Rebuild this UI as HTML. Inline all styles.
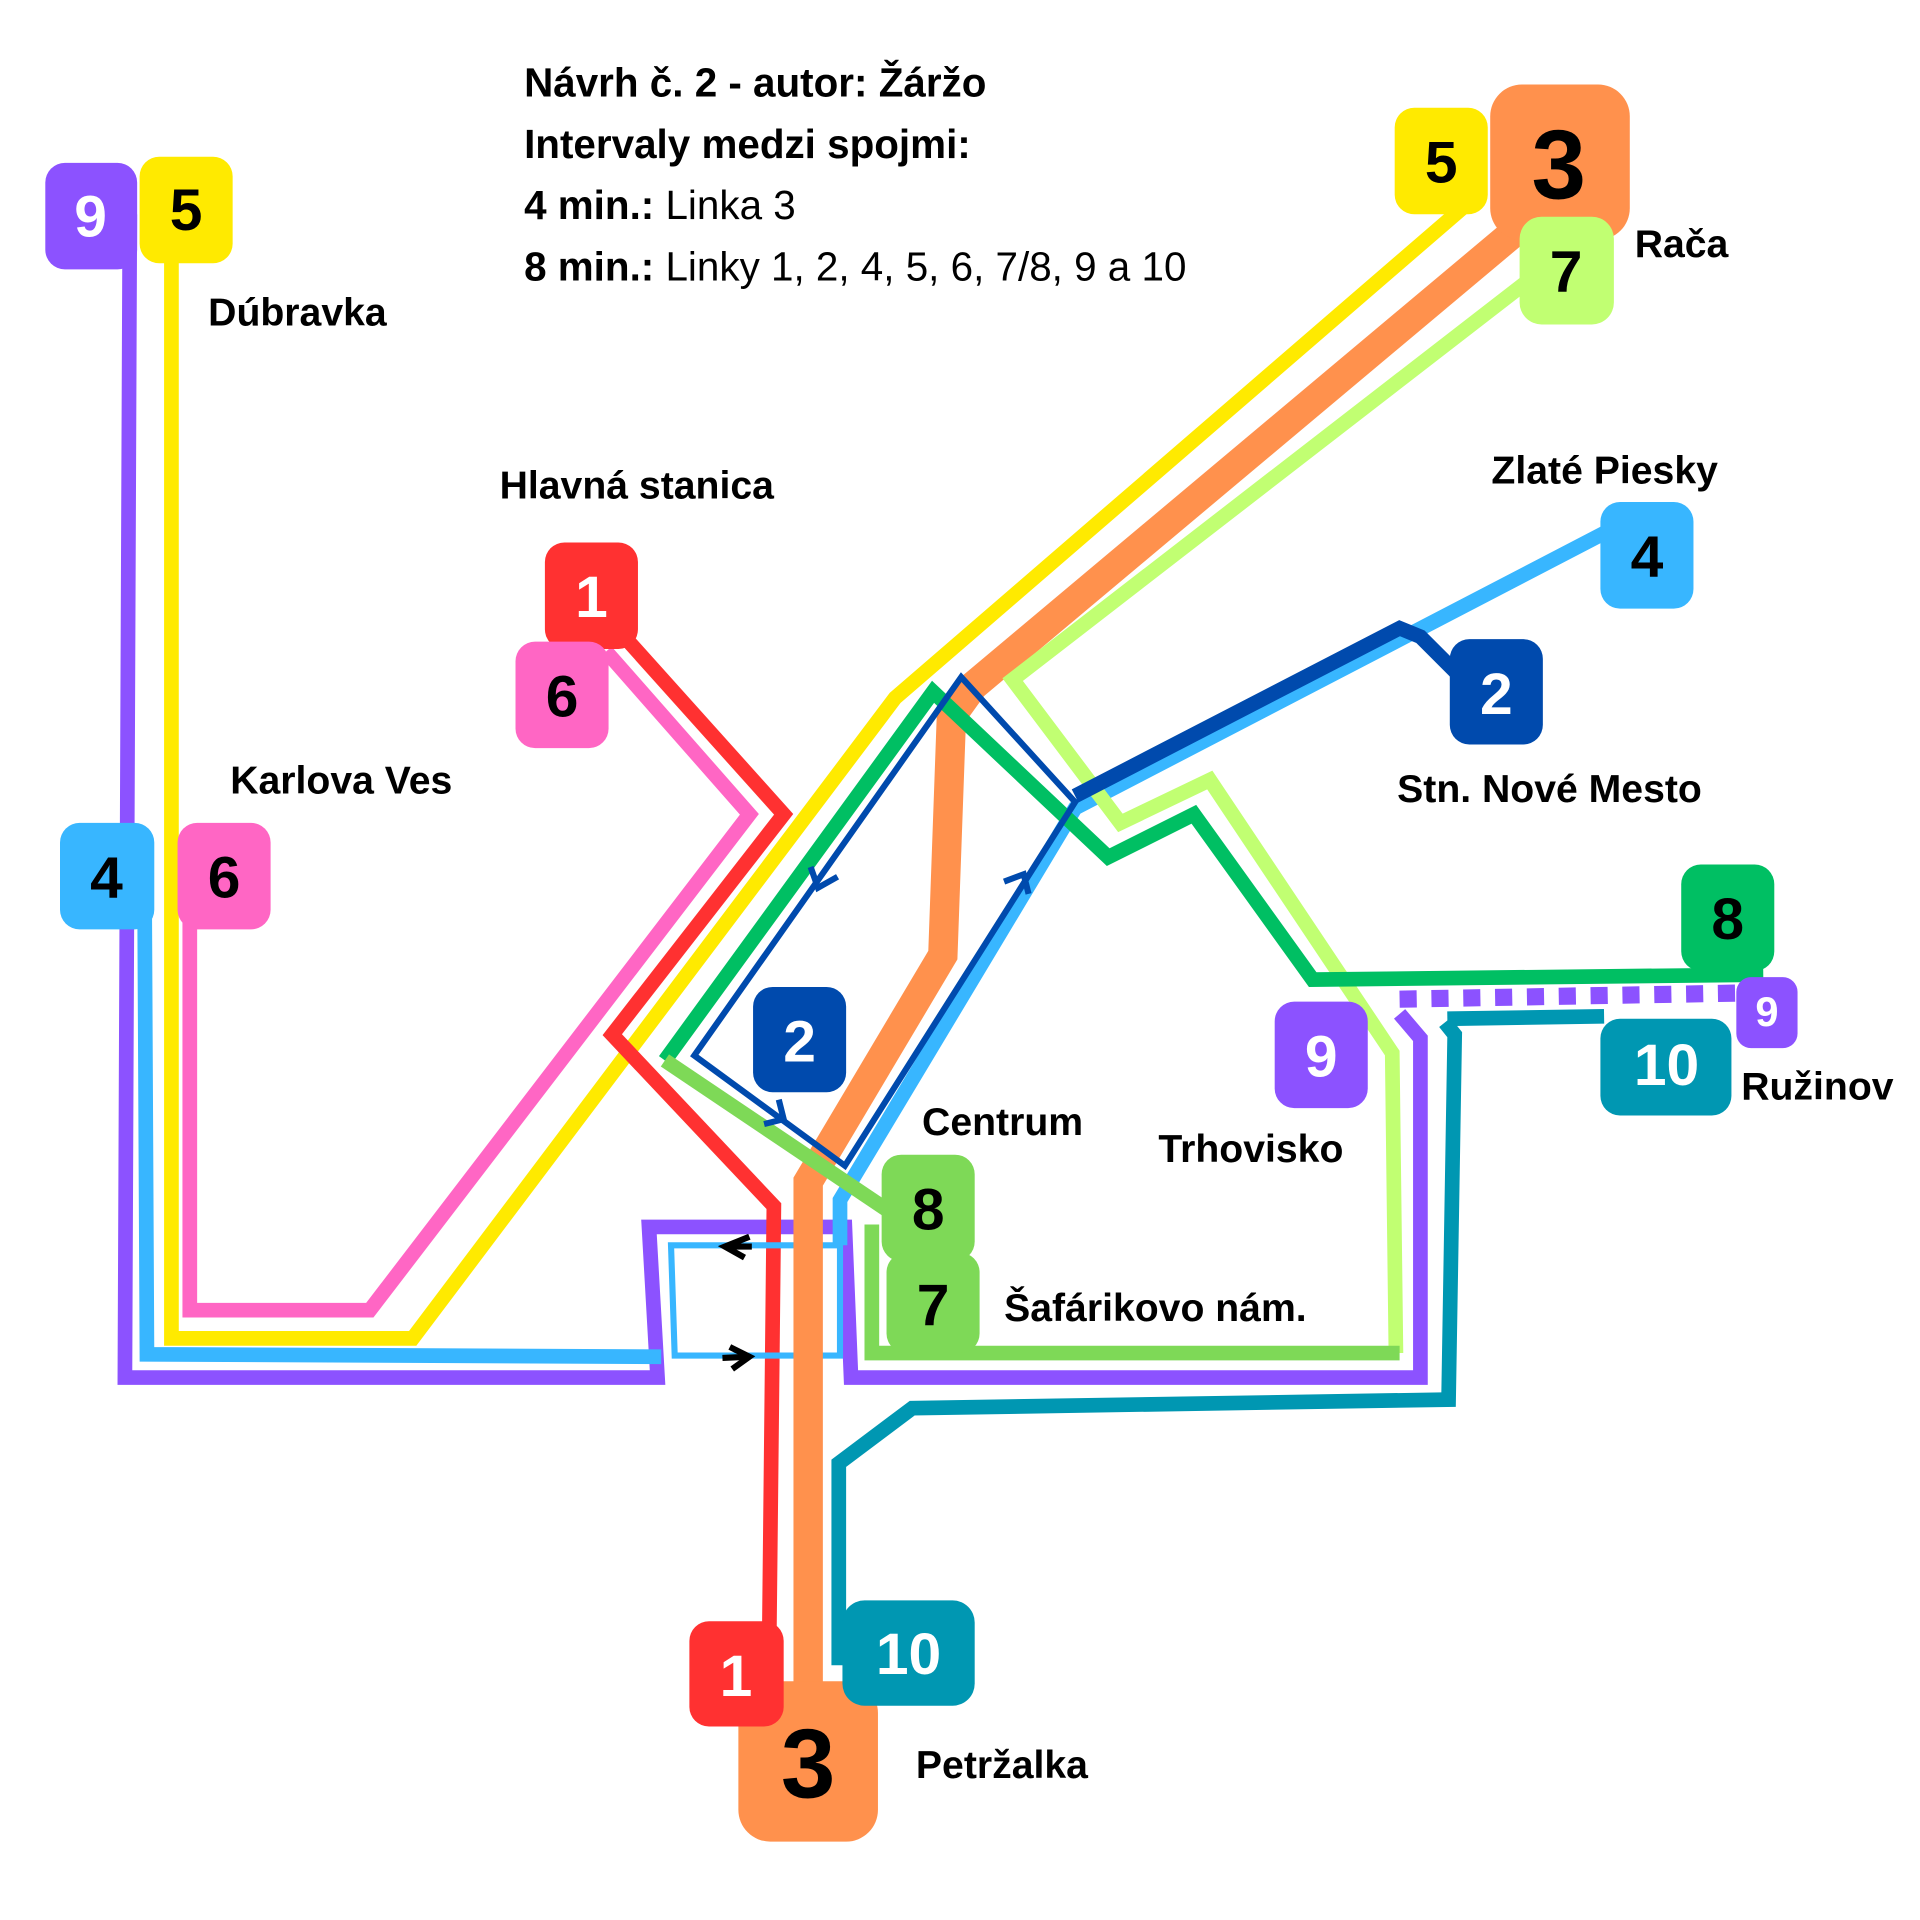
<!DOCTYPE html>
<html><head><meta charset="utf-8"><style>
html,body{margin:0;padding:0;background:#fff}
svg{display:block}
text{font-family:"Liberation Sans",sans-serif}
</style></head><body>
<svg width="1920" height="1920" viewBox="0 0 1568 1568" xmlns="http://www.w3.org/2000/svg">
<g fill="none" stroke-linejoin="miter" stroke-linecap="butt">
<polyline points="106,175 102,1125 537,1125 530,1002 690,1002 695,1125 1160,1125 1160,848 1143,828" stroke="#8c52ff" stroke-width="12"/>
<line x1="1143" y1="816" x2="1420" y2="811" stroke="#8c52ff" stroke-width="14" stroke-dasharray="14,12"/>
<polyline points="140,175 140,1093 337,1093 731,570 1200,165" stroke="#ffea00" stroke-width="12"/>
<polyline points="155,715 155,1070 302,1070 612,665 495,532" stroke="#ff66c4" stroke-width="12"/>
<polyline points="483,490 640,665 500,845 632,985 628,1360" stroke="#ff3131" stroke-width="12"/>
<polyline points="118,715 120,1106 540,1108" stroke="#38b6ff" stroke-width="12"/>
<polygon points="548,1017 686,1017 686,1107 551,1107" stroke="#38b6ff" stroke-width="5"/>
<polyline points="686,1017 686,980 878,660 1330,425" stroke="#38b6ff" stroke-width="12"/>
<polyline points="1272,160 795,560 777,585 770,780 660,965 660,1400" stroke="#ff914d" stroke-width="24"/>
<polyline points="1260,220 827,555 915,672 988,637 1137,860 1140,1105" stroke="#c1ff72" stroke-width="12"/>
<polyline points="543,866 762,565 905,700 975,665 1072,800 1440,796" stroke="#00bf63" stroke-width="12"/>
<polyline points="543,866 757,1010" stroke="#7ed957" stroke-width="12"/>
<polyline points="712,1000 712,1105 1143,1105" stroke="#7ed957" stroke-width="12"/>
<polyline points="685,1360 685,1195 745,1150 1183,1143 1188,845 1180,835" stroke="#0097b2" stroke-width="12"/>
<polyline points="1182,832 1310,830" stroke="#0097b2" stroke-width="12"/>
<polyline points="878,650 1143,513 1160,520 1200,560" stroke="#004aad" stroke-width="12"/>
<polygon points="567,862 785,553 878,655 690,952" stroke="#004aad" stroke-width="5"/>
<polyline points="662,708 668,725 684,716" stroke="#004aad" stroke-width="5"/>
<polyline points="624,918 640,914 636,898" stroke="#004aad" stroke-width="5"/>
<polyline points="820,720 836,714 840,730" stroke="#004aad" stroke-width="5"/>
<polyline points="612,1010 592,1018 608,1027" stroke="#000" stroke-width="5"/>
<line x1="592" y1="1018" x2="614" y2="1018" stroke="#000" stroke-width="5"/>
<polyline points="596,1100 612,1108 598,1118" stroke="#000" stroke-width="5"/>
<line x1="590" y1="1109" x2="612" y2="1108" stroke="#000" stroke-width="5"/>
</g>
<g font-weight="bold" font-size="48" text-anchor="middle">
<rect x="37" y="133" width="75" height="87" rx="16" fill="#8c52ff"/><text x="74" y="193" fill="#fff">9</text>
<rect x="114" y="128" width="76" height="87" rx="16" fill="#ffea00"/><text x="152" y="188">5</text>
<rect x="445" y="443" width="76" height="87" rx="16" fill="#ff3131"/><text x="483" y="504" fill="#fff">1</text>
<rect x="421" y="524" width="76" height="87" rx="16" fill="#ff66c4"/><text x="459" y="585">6</text>
<rect x="49" y="672" width="77" height="87" rx="16" fill="#38b6ff"/><text x="87" y="733">4</text>
<rect x="145" y="672" width="76" height="87" rx="16" fill="#ff66c4"/><text x="183" y="733">6</text>
<rect x="1139" y="88" width="76" height="87" rx="16" fill="#ffea00"/><text x="1177" y="149">5</text>
<rect x="1217" y="69" width="114" height="127" rx="26" fill="#ff914d"/><text x="1273" y="162" font-size="80">3</text>
<rect x="1241" y="177" width="77" height="88" rx="18" fill="#c1ff72"/><text x="1279" y="238">7</text>
<rect x="1307" y="410" width="76" height="87" rx="16" fill="#38b6ff"/><text x="1345" y="471">4</text>
<rect x="1184" y="522" width="76" height="86" rx="16" fill="#004aad"/><text x="1222" y="583" fill="#fff">2</text>
<rect x="1373" y="706" width="76" height="87" rx="16" fill="#00bf63"/><text x="1411" y="767">8</text>
<rect x="1307" y="832" width="107" height="79" rx="16" fill="#0097b2"/><text x="1361" y="886" fill="#fff">10</text>
<rect x="1418" y="798" width="50" height="58" rx="12" fill="#8c52ff"/><text x="1443" y="838" fill="#fff" font-size="34">9</text>
<rect x="1041" y="818" width="76" height="87" rx="16" fill="#8c52ff"/><text x="1079" y="879" fill="#fff">9</text>
<rect x="615" y="806" width="76" height="86" rx="16" fill="#004aad"/><text x="653" y="867" fill="#fff">2</text>
<rect x="720" y="943" width="76" height="87" rx="16" fill="#7ed957"/><text x="758" y="1004">8</text>
<rect x="724" y="1023" width="76" height="82" rx="16" fill="#7ed957"/><text x="762" y="1082">7</text>
<rect x="603" y="1373" width="114" height="131" rx="26" fill="#ff914d"/><text x="660" y="1468" font-size="80">3</text>
<rect x="563" y="1324" width="77" height="86" rx="16" fill="#ff3131"/><text x="601" y="1385" fill="#fff">1</text>
<rect x="688" y="1307" width="108" height="86" rx="18" fill="#0097b2"/><text x="742" y="1367" fill="#fff">10</text>
</g>
<g font-weight="bold" font-size="32">
<text x="170" y="266">Dúbravka</text>
<text x="408" y="407">Hlavná stanica</text>
<text x="188" y="648">Karlova Ves</text>
<text x="1335" y="210">Rača</text>
<text x="1218" y="395">Zlaté Piesky</text>
<text x="1141" y="655">Stn. Nové Mesto</text>
<text x="1422" y="898">Ružinov</text>
<text x="946" y="949">Trhovisko</text>
<text x="753" y="927">Centrum</text>
<text x="820" y="1079">Šafárikovo nám.</text>
<text x="748" y="1452">Petržalka</text>
</g>
<g font-size="33">
<text x="428" y="79" font-weight="bold">Návrh č. 2 - autor: Žáržo</text>
<text x="428" y="129" font-weight="bold">Intervaly medzi spojmi:</text>
<text x="428" y="179"><tspan font-weight="bold">4 min.:</tspan> Linka 3</text>
<text x="428" y="229"><tspan font-weight="bold">8 min.:</tspan> Linky 1, 2, 4, 5, 6, 7/8, 9 a 10</text>
</g>
</svg>
</body></html>
